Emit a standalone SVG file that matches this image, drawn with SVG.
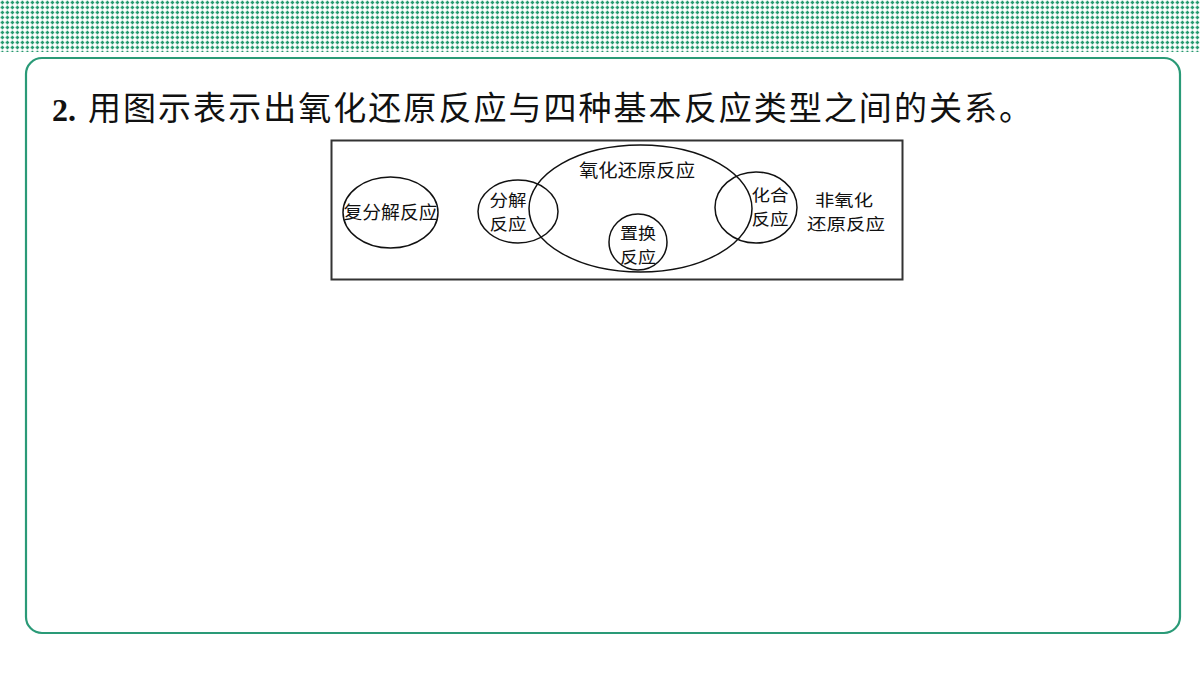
<svg xmlns="http://www.w3.org/2000/svg" width="1200" height="675" viewBox="0 0 1200 675">
<defs>
<pattern id="dots" x="0" y="0" width="5" height="5" patternUnits="userSpaceOnUse">
<rect x="0.6" y="1.7" width="3.6" height="1.6" fill="#27996f"/>
<rect x="1.6" y="0.7" width="1.6" height="3.6" fill="#27996f"/>
</pattern>
<style>
.cjk{font-family:"Noto Sans CJK SC",sans-serif;fill:#111;}
.lbl{font-size:18px;text-anchor:middle;}
.sm{font-size:16.4px;}
.ell{fill:none;stroke:#111;stroke-width:1.5;}
</style>
</defs>
<rect width="1200" height="675" fill="#fff"/>
<rect x="0" y="0" width="1200" height="52" fill="url(#dots)"/>
<rect x="26" y="58" width="1154" height="575" rx="16" ry="16" fill="none" stroke="#2a9a77" stroke-width="2.2"/>
<text x="52" y="121" font-family="Liberation Serif,serif" font-weight="bold" font-size="32" fill="#111">2.</text>
<text class="cjk" x="88" y="120" font-size="33" textLength="944" lengthAdjust="spacing">用图示表示出氧化还原反应与四种基本反应类型之间的关系。</text>
<g id="frame"><rect x="331.5" y="140.5" width="571" height="139" fill="none" stroke="#333" stroke-width="2"/></g>
<g id="fufenjie">
<ellipse class="ell" cx="390.5" cy="212.5" rx="47.5" ry="35.5"/>
<text class="cjk lbl" x="390.5" y="219" textLength="94" lengthAdjust="spacingAndGlyphs">复分解反应</text>
</g>
<g id="fenjie">
<ellipse class="ell" cx="518" cy="211.5" rx="40" ry="31.5"/>
<text class="cjk lbl sm" x="508" y="206" textLength="37" lengthAdjust="spacingAndGlyphs">分解</text>
<text class="cjk lbl sm" x="508" y="230" textLength="37" lengthAdjust="spacingAndGlyphs">反应</text>
</g>
<g id="redox">
<ellipse class="ell" cx="640.5" cy="208.5" rx="111.5" ry="63.5"/>
<text class="cjk lbl" x="637" y="177" textLength="116" lengthAdjust="spacingAndGlyphs">氧化还原反应</text>
</g>
<g id="zhihuan">
<ellipse class="ell" cx="638" cy="242" rx="29" ry="28"/>
<text class="cjk lbl sm" x="638" y="239" textLength="36" lengthAdjust="spacingAndGlyphs">置换</text>
<text class="cjk lbl sm" x="638" y="263" textLength="36" lengthAdjust="spacingAndGlyphs">反应</text>
</g>
<g id="huahe">
<ellipse class="ell" cx="756" cy="207.5" rx="41" ry="35.5"/>
<text class="cjk lbl sm" x="770" y="201" textLength="37" lengthAdjust="spacingAndGlyphs">化合</text>
<text class="cjk lbl sm" x="770" y="225" textLength="37" lengthAdjust="spacingAndGlyphs">反应</text>
</g>
<g id="feiyanghua">
<text class="cjk lbl sm" x="844" y="206" textLength="58" lengthAdjust="spacingAndGlyphs">非氧化</text>
<text class="cjk lbl sm" x="846" y="230" textLength="78" lengthAdjust="spacingAndGlyphs">还原反应</text>
</g>
<g id="connectors"></g>
</svg>
